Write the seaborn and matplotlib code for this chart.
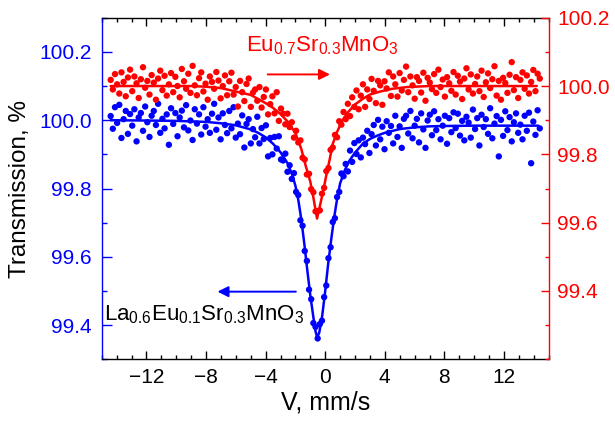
import numpy as np
import pandas as pd
import matplotlib
matplotlib.use("Agg")
import matplotlib.pyplot as plt
import seaborn as sns
from matplotlib.ticker import MultipleLocator, FormatStrFormatter

sns.set_theme(style="ticks")
plt.rcParams["font.family"] = ["Liberation Sans", "DejaVu Sans"]
plt.rcParams["mathtext.fontset"] = "custom"
plt.rcParams["mathtext.rm"] = "Liberation Sans"
plt.rcParams["mathtext.it"] = "Liberation Sans:italic"
plt.rcParams["mathtext.bf"] = "Liberation Sans:bold"

# ---------------- data ----------------
v_first, v_last = -14.4, 14.4   # velocity range of measured channels, mm/s

# La0.6Eu0.1Sr0.3MnO3 (left axis, blue), measured transmission %
blue_t = [
    100.012, 99.975, 100.038, 99.992, 100.045, 99.948, 100.003, 100.027, 99.960, 100.018,
    99.984, 100.032, 99.938, 100.008, 100.021, 99.969, 100.040, 99.994, 99.951, 100.013,
    100.027, 99.986, 100.048, 99.963, 100.004, 99.976, 100.017, 99.928, 100.035, 99.989,
    100.021, 99.953, 100.008, 100.028, 99.979, 100.044, 99.970, 99.999, 99.942, 100.032,
    99.990, 100.017, 99.958, 100.038, 99.981, 100.003, 99.963, 100.019, 100.048, 99.972,
    100.008, 99.944, 100.020, 99.986, 99.962, 100.027, 99.976, 100.038, 99.949, 99.990,
    99.959, 100.014, 99.920, 99.989, 100.003, 99.932, 99.974, 99.950, 100.010, 99.932,
    99.977, 99.945, 99.985, 99.894, 99.948, 99.900, 99.951, 99.917, 99.953, 99.885,
    99.882, 99.902, 99.849, 99.868, 99.828, 99.845, 99.790, 99.781, 99.707, 99.691,
    99.617, 99.588, 99.504, 99.476, 99.406, 99.395, 99.361, 99.403, 99.413, 99.482,
    99.516, 99.596, 99.628, 99.702, 99.713, 99.775, 99.790, 99.844, 99.836, 99.872,
    99.850, 99.911, 99.878, 99.933, 99.901, 99.941, 99.891, 99.949, 99.930, 99.969,
    99.904, 99.959, 99.986, 99.926, 100.001, 99.944, 99.981, 99.915, 99.997, 99.963,
    99.983, 99.932, 100.013, 99.951, 99.982, 99.919, 100.004, 100.013, 99.961, 100.027,
    99.947, 99.984, 100.004, 99.935, 100.020, 99.973, 99.919, 99.999, 100.016, 99.956,
    100.026, 99.971, 100.003, 99.944, 99.984, 100.013, 99.931, 100.006, 99.965, 100.023,
    99.977, 100.019, 99.955, 99.998, 99.941, 100.010, 99.993, 99.949, 100.031, 99.974,
    100.006, 99.926, 100.016, 99.980, 100.003, 99.960, 100.035, 99.947, 99.990, 100.012,
    99.894, 100.001, 99.954, 100.026, 99.971, 100.009, 99.938, 99.994, 100.020, 99.963,
    99.987, 99.944, 100.013, 99.969, 100.022, 99.874, 99.996, 99.957, 100.029, 99.976,
]

# Eu0.7Sr0.3MnO3 (right axis, red), measured transmission %
red_t = [
    100.018, 99.990, 100.035, 100.005, 99.978, 100.040, 100.012, 99.970, 100.025, 100.048,
    99.985, 100.028, 100.008, 99.965, 100.020, 100.055, 99.995, 100.015, 99.975, 100.032,
    100.010, 99.960, 100.022, 100.045, 99.988, 100.030, 99.972, 100.005, 100.038, 99.982,
    100.027, 100.000, 99.967, 100.050, 100.014, 99.992, 100.036, 99.980, 100.059, 100.002,
    99.973, 100.023, 100.040, 99.984, 100.007, 99.960, 100.028, 100.012, 99.992, 100.041,
    100.016, 99.964, 100.000, 100.031, 99.973, 100.014, 100.039, 99.975, 99.997, 99.940,
    100.015, 99.982, 99.956, 100.006, 100.022, 99.939, 99.981, 99.990, 99.957, 99.997,
    99.937, 99.968, 99.990, 99.917, 99.947, 99.970, 99.920, 99.982, 99.898, 99.934,
    99.919, 99.888, 99.919, 99.880, 99.894, 99.849, 99.869, 99.835, 99.841, 99.790,
    99.785, 99.741, 99.743, 99.698, 99.689, 99.633, 99.634, 99.636, 99.685, 99.702,
    99.751, 99.760, 99.813, 99.820, 99.857, 99.850, 99.897, 99.887, 99.924, 99.903,
    99.948, 99.912, 99.967, 99.939, 99.987, 99.932, 99.972, 100.005, 99.939, 99.990,
    99.962, 100.021, 99.986, 99.950, 100.015, 100.002, 99.945, 100.014, 99.993, 100.040,
    99.971, 100.028, 100.005, 99.969, 100.038, 99.987, 100.018, 100.057, 99.982, 100.028,
    100.002, 99.963, 100.026, 100.015, 99.981, 100.039, 99.957, 100.024, 100.010, 99.991,
    100.035, 99.980, 100.048, 99.997, 100.019, 99.969, 100.026, 100.008, 99.986, 100.041,
    99.975, 100.030, 100.013, 99.962, 100.022, 100.052, 99.990, 100.034, 99.978, 100.006,
    100.028, 99.985, 100.045, 99.968, 100.011, 100.037, 99.994, 100.020, 100.058, 99.972,
    100.015, 99.960, 100.024, 100.009, 99.980, 100.033, 100.070, 99.988, 100.026, 99.965,
    100.018, 100.040, 99.992, 100.031, 99.978, 100.012, 100.047, 99.985, 100.036, 100.022,
]

# fitted curves
blue_fit_v = [-14.4, -12, -10, -8, -7, -6, -5, -4.5, -4, -3.5, -3, -2.5, -2.2, -2.0,
              -1.8, -1.6, -1.4, -1.2, -1.0, -0.8, -0.65, -0.54, -0.4, -0.2, 0.0, 0.2,
              0.4, 0.6, 0.8, 1.0, 1.3, 1.6, 2.0, 2.5, 3.0, 3.5, 4.0, 5.0, 6.0, 7.0,
              8.0, 10, 12, 14.3]
blue_fit_t = [100.000, 99.999, 99.998, 99.995, 99.991, 99.985, 99.973, 99.963, 99.950,
              99.931, 99.906, 99.872, 99.838, 99.808, 99.765, 99.708, 99.637, 99.560,
              99.487, 99.425, 99.382, 99.364, 99.378, 99.428, 99.500, 99.580, 99.650,
              99.715, 99.770, 99.815, 99.852, 99.880, 99.905, 99.930, 99.945, 99.955,
              99.963, 99.974, 99.979, 99.982, 99.983, 99.984, 99.984, 99.984]

red_fit_v = [-14.4, -9, -8, -7, -6.4, -5, -4, -3.5, -3, -2.5, -2.0, -1.6, -1.3, -1.0,
             -0.8, -0.55, -0.3, -0.1, 0.1, 0.3, 0.5, 0.8, 1.1, 1.5, 2.0, 2.5, 3.0,
             3.7, 4.5, 5.5, 7, 14.2]
red_fit_t = [100.000, 100.000, 99.998, 99.994, 99.988, 99.974, 99.950, 99.936, 99.918,
             99.895, 99.862, 99.815, 99.765, 99.720, 99.675, 99.612, 99.660, 99.700,
             99.745, 99.785, 99.830, 99.866, 99.895, 99.922, 99.946, 99.962, 99.975,
             99.984, 99.992, 99.997, 100.000, 100.000]

x_ticks = [-12, -8, -4, 0, 4, 8, 12]
left_ticks = [99.4, 99.6, 99.8, 100.0, 100.2]
right_ticks = [99.4, 99.6, 99.8, 100.0, 100.2]

label_red = r"Eu$_{0.7}$Sr$_{0.3}$MnO$_{3}$"
label_blue = r"La$_{0.6}$Eu$_{0.1}$Sr$_{0.3}$MnO$_{3}$"

BLUE = "#0000FF"
RED = "#FF0000"

velocity = np.linspace(v_first, v_last, len(blue_t))
df_blue = pd.DataFrame({"v": velocity, "t": blue_t})
df_red = pd.DataFrame({"v": velocity, "t": red_t})
fit_blue = pd.DataFrame({"v": blue_fit_v, "t": blue_fit_t})
fit_red = pd.DataFrame({"v": red_fit_v, "t": red_fit_t})

# ---------------- figure ----------------
fig = plt.figure(figsize=(6.15, 4.22), dpi=100)
fig.patch.set_facecolor("white")
ax = fig.add_axes([0.1654, 0.1486, 0.7268, 0.8094])
ax.set_facecolor("white")
ax2 = ax.twinx()

sns.scatterplot(data=df_blue, x="v", y="t", ax=ax, color=BLUE, s=21,
                linewidth=0, edgecolor="none", zorder=2)
sns.lineplot(data=fit_blue, x="v", y="t", ax=ax, color=BLUE, lw=1.8,
             estimator=None, sort=False, zorder=3)

sns.scatterplot(data=df_red, x="v", y="t", ax=ax2, color=RED, s=21,
                linewidth=0, edgecolor="none", zorder=2)
sns.lineplot(data=fit_red, x="v", y="t", ax=ax2, color=RED, lw=1.8,
             estimator=None, sort=False, zorder=3)

ax.set_xlim(-15, 15)
ax.set_ylim(99.3, 100.3)

ax.set_xticks(x_ticks)
ax.xaxis.set_minor_locator(MultipleLocator(1))
ax.set_yticks(left_ticks)
ax.yaxis.set_minor_locator(MultipleLocator(0.1))
ax.yaxis.set_major_formatter(FormatStrFormatter("%.1f"))
ax2.set_yticks(right_ticks)
ax2.yaxis.set_minor_locator(MultipleLocator(0.1))
ax2.yaxis.set_major_formatter(FormatStrFormatter("%.1f"))
ax2.set_ylim(99.2, 100.2)

ax.tick_params(axis="x", which="both", direction="in", top=True, bottom=True,
               color="black", labelcolor="black", labelsize=15, width=1.0, pad=6)
ax.tick_params(axis="x", which="major", length=6)
ax.tick_params(axis="x", which="minor", length=3)
ax.tick_params(axis="y", which="both", direction="in", left=True, right=False,
               color=BLUE, labelcolor=BLUE, labelsize=15, width=1.0, pad=7)
ax.tick_params(axis="y", which="major", length=7)
ax.tick_params(axis="y", which="minor", length=3.5)
ax2.tick_params(axis="y", which="both", direction="in", right=True, left=False,
                color=RED, labelcolor=RED, labelsize=15, width=1.0, pad=6)
ax2.tick_params(axis="y", which="major", length=6)
ax2.tick_params(axis="y", which="minor", length=3)

for sp in ["top", "bottom"]:
    ax.spines[sp].set_color("black")
    ax.spines[sp].set_linewidth(1.0)
ax.spines["left"].set_color(BLUE)
ax.spines["left"].set_linewidth(1.0)
ax.spines["right"].set_visible(False)
ax2.spines["left"].set_visible(False)
ax2.spines["top"].set_visible(False)
ax2.spines["bottom"].set_visible(False)
ax2.spines["right"].set_color(RED)
ax2.spines["right"].set_linewidth(1.0)

ax.set_xlabel("V, mm/s", fontsize=18, color="black", labelpad=3)
ax.set_ylabel("Transmission, %", fontsize=17.5, color="black", labelpad=6)
ax2.set_ylabel("")

# annotations
ax2.text(-5.29, 100.100, label_red, color=RED, fontsize=16, ha="left", va="baseline")
ax2.annotate("", xy=(0.32, 100.034), xytext=(-3.86, 100.034),
             arrowprops=dict(arrowstyle="-|>", color=RED, lw=1.4,
                             mutation_scale=16, shrinkA=0, shrinkB=0))
ax.text(-14.83, 99.4125, label_blue, color="black", fontsize=16, ha="left", va="baseline")
ax.annotate("", xy=(-7.23, 99.498), xytext=(-1.97, 99.498),
            arrowprops=dict(arrowstyle="-|>", color=BLUE, lw=1.4,
                            mutation_scale=16, shrinkA=0, shrinkB=0))

fig.savefig("out.png", dpi=100, facecolor="white")
